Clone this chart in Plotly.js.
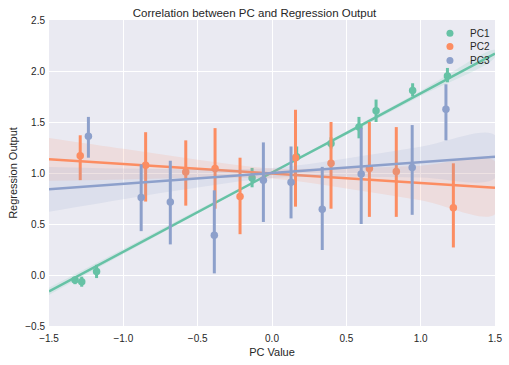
<!DOCTYPE html>
<html>
<head>
<meta charset="utf-8">
<script src="https://cdn.plot.ly/plotly-3.0.1.min.js"></script>
<style>html,body{margin:0;padding:0;background:#fff;}#chart{width:509px;height:365px;}</style>
</head>
<body>
<div id="chart"></div>
<script>
// ---- data ----
const seriesNames = ["PC1", "PC2", "PC3"];
const colors = ["#66c2a5", "#fc8d62", "#8da0cb"];

const pc1X  = [-1.325, -1.28, -1.18, -0.134, 0.166, 0.397, 0.585, 0.70, 0.946, 1.18];
const pc1Y  = [-0.05, -0.065, 0.035, 0.95, 1.16, 1.29, 1.45, 1.61, 1.81, 1.95];
const pc1Lo = [-0.09, -0.115, -0.03, 0.86, 1.12, 1.24, 1.34, 1.50, 1.75, 1.89];
const pc1Hi = [-0.02, -0.017, 0.10, 1.05, 1.26, 1.35, 1.55, 1.72, 1.88, 2.03];

const pc2X  = [-1.29, -0.85, -0.58, -0.383, -0.215, 0.158, 0.397, 0.655, 0.836, 1.22];
const pc2Y  = [1.17, 1.075, 1.01, 1.045, 0.77, 1.15, 1.095, 1.045, 1.015, 0.66];
const pc2Lo = [0.93, 0.72, 0.68, 0.65, 0.40, 0.67, 0.65, 0.57, 0.57, 0.27];
const pc2Hi = [1.37, 1.40, 1.32, 1.44, 1.15, 1.62, 1.50, 1.50, 1.45, 1.095];

const pc3X  = [-1.235, -0.88, -0.684, -0.388, -0.058, 0.128, 0.338, 0.60, 0.943, 1.17];
const pc3Y  = [1.36, 0.76, 0.715, 0.39, 0.93, 0.91, 0.645, 0.99, 1.055, 1.625];
const pc3Lo = [1.15, 0.43, 0.30, 0.016, 0.52, 0.555, 0.245, 0.50, 0.59, 1.32];
const pc3Hi = [1.55, 1.085, 1.12, 0.83, 1.30, 1.26, 1.06, 1.44, 1.47, 1.87];

// regression lines and confidence bands, sampled across the x range
const fitX    = [-1.5, -1.0, -0.5, 0.0, 0.5, 1.0, 1.5];
const pc1Fit  = [-0.16, 0.23, 0.62, 1.005, 1.39, 1.78, 2.17];
const pc1Band = [0.035, 0.025, 0.017, 0.012, 0.017, 0.025, 0.035];
const pc2Fit  = [1.134, 1.087, 1.04, 0.995, 0.948, 0.902, 0.856];
const pc2Band = [0.21, 0.15, 0.09, 0.05, 0.10, 0.17, 0.26];
const pc3Fit  = [0.84, 0.893, 0.947, 1.0, 1.053, 1.107, 1.16];
const pc3Band = [0.22, 0.15, 0.09, 0.05, 0.09, 0.15, 0.21];

const xTicks = [-1.5, -1.0, -0.5, 0.0, 0.5, 1.0, 1.5];
const yTicks = [-0.5, 0.0, 0.5, 1.0, 1.5, 2.0, 2.5];

// ---- build traces ----
const groups = [
  {x: pc1X, y: pc1Y, lo: pc1Lo, hi: pc1Hi, fit: pc1Fit, band: pc1Band},
  {x: pc2X, y: pc2Y, lo: pc2Lo, hi: pc2Hi, fit: pc2Fit, band: pc2Band},
  {x: pc3X, y: pc3Y, lo: pc3Lo, hi: pc3Hi, fit: pc3Fit, band: pc3Band}
];

function rgba(hex, a) {
  const r = parseInt(hex.slice(1,3),16), g = parseInt(hex.slice(3,5),16), b = parseInt(hex.slice(5,7),16);
  return `rgba(${r},${g},${b},${a})`;
}

const traces = [];
groups.forEach((g, i) => {
  const c = colors[i];
  traces.push({
    type: 'scatter', mode: 'markers', name: seriesNames[i],
    x: g.x, y: g.y, showlegend: false, hoverinfo: 'skip',
    marker: {color: c, size: 7.5},
    error_y: {type: 'data', symmetric: false,
      array: g.hi.map((h, k) => h - g.y[k]),
      arrayminus: g.y.map((v, k) => v - g.lo[k]),
      color: c, thickness: 3, width: 0}
  });
  const up = g.fit.map((v, k) => v + g.band[k]);
  const dn = g.fit.map((v, k) => v - g.band[k]);
  traces.push({
    type: 'scatter', mode: 'lines', showlegend: false, hoverinfo: 'skip',
    x: fitX.concat(fitX.slice().reverse()),
    y: up.concat(dn.slice().reverse()),
    fill: 'toself', fillcolor: rgba(c, 0.15), line: {width: 0, shape: 'spline'}
  });
  traces.push({
    type: 'scatter', mode: 'lines', showlegend: false, hoverinfo: 'skip',
    x: fitX, y: g.fit, line: {color: c, width: 2.5}
  });
});

const font = {family: 'Liberation Sans, Arial, sans-serif', color: '#262626'};

// manual legend (compact spacing like the reference)
const legX = 0.899, legTextX = 0.9395;
const legY = [0.9566, 0.913, 0.868];
const shapes = [], annotations = [];
seriesNames.forEach((n, i) => {
  shapes.push({type: 'circle', xref: 'paper', yref: 'paper', xsizemode: 'pixel', ysizemode: 'pixel',
    xanchor: legX, yanchor: legY[i], x0: -3.5, x1: 3.5, y0: -3.5, y1: 3.5,
    fillcolor: colors[i], line: {width: 0}, layer: 'above'});
  annotations.push({xref: 'paper', yref: 'paper', x: legTextX, y: legY[i], xanchor: 'left', yanchor: 'middle',
    text: n, showarrow: false, font: Object.assign({size: 10}, font)});
});

const layout = {
  width: 509, height: 365,
  margin: {l: 49, r: 14, t: 20, b: 39},
  paper_bgcolor: '#ffffff', plot_bgcolor: '#EAEAF2',
  font: Object.assign({size: 10}, font),
  title: {text: 'Correlation between PC and Regression Output',
    font: Object.assign({size: 11.5}, font), x: 0.5, xanchor: 'center', y: 0.964, yanchor: 'middle'},
  xaxis: {range: [-1.5, 1.5], tickvals: xTicks, ticktext: xTicks.map(v => v.toFixed(1).replace('-', '\u2212')),
    showgrid: true, gridcolor: '#ffffff', gridwidth: 1, zeroline: false, showline: false, ticks: '',
    ticklabelstandoff: 5,
    tickfont: Object.assign({size: 10}, font),
    title: {text: 'PC Value', font: Object.assign({size: 11}, font), standoff: 5}},
  yaxis: {range: [-0.5, 2.5], tickvals: yTicks, ticktext: yTicks.map(v => v.toFixed(1).replace('-', '\u2212')),
    showgrid: true, gridcolor: '#ffffff', gridwidth: 1, zeroline: false, showline: false, ticks: '',
    ticklabelstandoff: 3,
    tickfont: Object.assign({size: 10}, font),
    title: {text: 'Regression Output', font: Object.assign({size: 11}, font), standoff: 5}},
  shapes: shapes,
  annotations: annotations,
  showlegend: false
};

Plotly.newPlot('chart', traces, layout, {displayModeBar: false, staticPlot: true});
</script>
</body>
</html>
